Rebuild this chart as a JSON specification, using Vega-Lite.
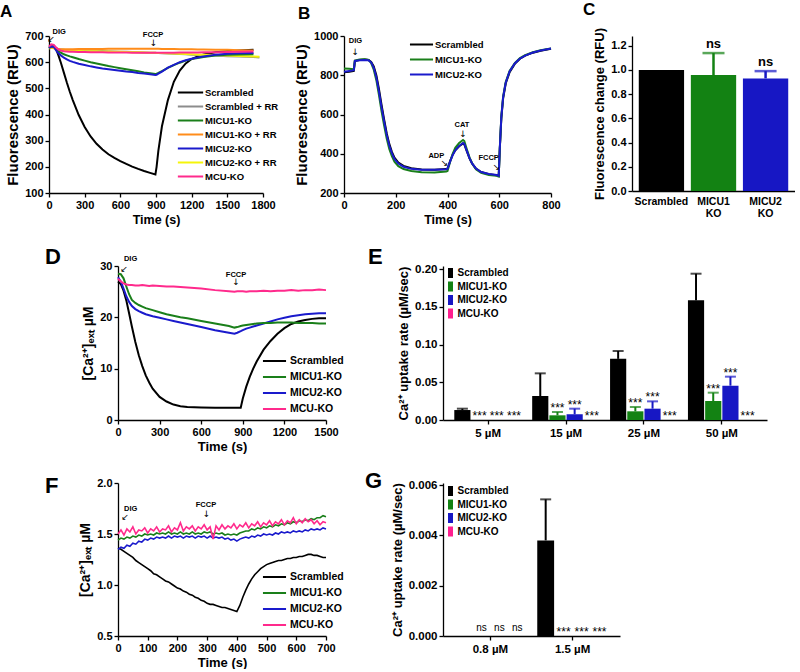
{
"$schema": "https://vega.github.io/schema/vega-lite/v6.json",
"background": "#ffffff",
"padding": {"left": 0, "top": 0, "right": 0, "bottom": 0},
"config": {
  "view": {"stroke": null},
  "font": "Liberation Sans",
  "axis": {"domainColor": "#000000", "domainWidth": 1.3, "tickColor": "#000000", "tickWidth": 1.3, "tickSize": 4, "labelColor": "#000000", "labelFont": "Liberation Sans", "labelFontWeight": "bold", "labelFontSize": 11, "labelPadding": 2, "labelFlush": false, "labelOverlap": false, "titleColor": "#000000", "titleFont": "Liberation Sans", "titleFontWeight": "bold", "titleFontSize": 13, "titlePadding": 4, "grid": false},
  "legend": {"labelFont": "Liberation Sans", "labelFontWeight": "bold", "labelFontSize": 10, "labelColor": "#000000", "padding": 0, "title": null},
  "title": {"font": "Liberation Sans", "fontWeight": "bold", "color": "#000000", "anchor": "start", "frame": "group", "offset": 2}
},
"datasets": {
  "A": [
    {"t":0,"Scrambled":655,"Scrambled + RR":655,"MICU1-KO":655,"MICU1-KO + RR":655,"MICU2-KO":655,"MICU2-KO + RR":652,"MCU-KO":660},
    {"t":20,"Scrambled":660,"Scrambled + RR":659,"MICU1-KO":660,"MICU1-KO + RR":657,"MICU2-KO":660,"MICU2-KO + RR":655,"MCU-KO":668},
    {"t":40,"Scrambled":662,"Scrambled + RR":658,"MICU1-KO":661,"MICU1-KO + RR":656,"MICU2-KO":659,"MICU2-KO + RR":653,"MCU-KO":666},
    {"t":60,"Scrambled":650,"Scrambled + RR":652,"MICU1-KO":650,"MICU1-KO + RR":651,"MICU2-KO":645,"MICU2-KO + RR":648,"MCU-KO":656},
    {"t":80,"Scrambled":625,"Scrambled + RR":650,"MICU1-KO":642,"MICU1-KO + RR":650,"MICU2-KO":634,"MICU2-KO + RR":646,"MCU-KO":648},
    {"t":100,"Scrambled":598,"Scrambled + RR":648,"MICU1-KO":636,"MICU1-KO + RR":649,"MICU2-KO":626,"MICU2-KO + RR":645,"MCU-KO":644},
    {"t":125,"Scrambled":560,"Scrambled + RR":647,"MICU1-KO":630,"MICU1-KO + RR":649,"MICU2-KO":617,"MICU2-KO + RR":644,"MCU-KO":642},
    {"t":150,"Scrambled":522,"Scrambled + RR":646,"MICU1-KO":626,"MICU1-KO + RR":649,"MICU2-KO":611,"MICU2-KO + RR":644,"MCU-KO":641},
    {"t":175,"Scrambled":487,"Scrambled + RR":646,"MICU1-KO":622,"MICU1-KO + RR":649,"MICU2-KO":605,"MICU2-KO + RR":643,"MCU-KO":640},
    {"t":200,"Scrambled":455,"Scrambled + RR":645,"MICU1-KO":619,"MICU1-KO + RR":649,"MICU2-KO":601,"MICU2-KO + RR":643,"MCU-KO":640},
    {"t":250,"Scrambled":398,"Scrambled + RR":645,"MICU1-KO":612,"MICU1-KO + RR":650,"MICU2-KO":594,"MICU2-KO + RR":643,"MCU-KO":639},
    {"t":300,"Scrambled":352,"Scrambled + RR":644,"MICU1-KO":606,"MICU1-KO + RR":650,"MICU2-KO":589,"MICU2-KO + RR":642,"MCU-KO":639},
    {"t":350,"Scrambled":316,"Scrambled + RR":644,"MICU1-KO":600,"MICU1-KO + RR":650,"MICU2-KO":584,"MICU2-KO + RR":642,"MCU-KO":638},
    {"t":400,"Scrambled":288,"Scrambled + RR":643,"MICU1-KO":595,"MICU1-KO + RR":650,"MICU2-KO":580,"MICU2-KO + RR":642,"MCU-KO":638},
    {"t":450,"Scrambled":266,"Scrambled + RR":643,"MICU1-KO":590,"MICU1-KO + RR":650,"MICU2-KO":576,"MICU2-KO + RR":641,"MCU-KO":638},
    {"t":500,"Scrambled":248,"Scrambled + RR":642,"MICU1-KO":585,"MICU1-KO + RR":651,"MICU2-KO":573,"MICU2-KO + RR":641,"MCU-KO":637},
    {"t":550,"Scrambled":234,"Scrambled + RR":641,"MICU1-KO":581,"MICU1-KO + RR":651,"MICU2-KO":570,"MICU2-KO + RR":640,"MCU-KO":637},
    {"t":600,"Scrambled":222,"Scrambled + RR":640,"MICU1-KO":577,"MICU1-KO + RR":651,"MICU2-KO":567,"MICU2-KO + RR":640,"MCU-KO":637},
    {"t":650,"Scrambled":211,"Scrambled + RR":640,"MICU1-KO":573,"MICU1-KO + RR":651,"MICU2-KO":564,"MICU2-KO + RR":639,"MCU-KO":637},
    {"t":700,"Scrambled":201,"Scrambled + RR":639,"MICU1-KO":569,"MICU1-KO + RR":651,"MICU2-KO":562,"MICU2-KO + RR":638,"MCU-KO":636},
    {"t":750,"Scrambled":192,"Scrambled + RR":638,"MICU1-KO":565,"MICU1-KO + RR":651,"MICU2-KO":559,"MICU2-KO + RR":638,"MCU-KO":636},
    {"t":800,"Scrambled":184,"Scrambled + RR":637,"MICU1-KO":561,"MICU1-KO + RR":651,"MICU2-KO":557,"MICU2-KO + RR":637,"MCU-KO":636},
    {"t":850,"Scrambled":177,"Scrambled + RR":636,"MICU1-KO":558,"MICU1-KO + RR":651,"MICU2-KO":554,"MICU2-KO + RR":636,"MCU-KO":636},
    {"t":895,"Scrambled":171,"Scrambled + RR":636,"MICU1-KO":555,"MICU1-KO + RR":651,"MICU2-KO":551,"MICU2-KO + RR":636,"MCU-KO":636},
    {"t":905,"Scrambled":200,"Scrambled + RR":635,"MICU1-KO":556,"MICU1-KO + RR":651,"MICU2-KO":552,"MICU2-KO + RR":635,"MCU-KO":636},
    {"t":920,"Scrambled":262,"Scrambled + RR":635,"MICU1-KO":559,"MICU1-KO + RR":651,"MICU2-KO":556,"MICU2-KO + RR":635,"MCU-KO":636},
    {"t":950,"Scrambled":355,"Scrambled + RR":634,"MICU1-KO":566,"MICU1-KO + RR":650,"MICU2-KO":564,"MICU2-KO + RR":635,"MCU-KO":636},
    {"t":1000,"Scrambled":455,"Scrambled + RR":633,"MICU1-KO":578,"MICU1-KO + RR":650,"MICU2-KO":579,"MICU2-KO + RR":634,"MCU-KO":636},
    {"t":1050,"Scrambled":525,"Scrambled + RR":632,"MICU1-KO":589,"MICU1-KO + RR":650,"MICU2-KO":590,"MICU2-KO + RR":633,"MCU-KO":636},
    {"t":1100,"Scrambled":568,"Scrambled + RR":631,"MICU1-KO":598,"MICU1-KO + RR":649,"MICU2-KO":600,"MICU2-KO + RR":632,"MCU-KO":637},
    {"t":1150,"Scrambled":595,"Scrambled + RR":630,"MICU1-KO":606,"MICU1-KO + RR":649,"MICU2-KO":607,"MICU2-KO + RR":631,"MCU-KO":637},
    {"t":1200,"Scrambled":612,"Scrambled + RR":628,"MICU1-KO":612,"MICU1-KO + RR":649,"MICU2-KO":613,"MICU2-KO + RR":630,"MCU-KO":637},
    {"t":1250,"Scrambled":622,"Scrambled + RR":627,"MICU1-KO":616,"MICU1-KO + RR":648,"MICU2-KO":618,"MICU2-KO + RR":629,"MCU-KO":637},
    {"t":1300,"Scrambled":629,"Scrambled + RR":626,"MICU1-KO":620,"MICU1-KO + RR":648,"MICU2-KO":622,"MICU2-KO + RR":628,"MCU-KO":638},
    {"t":1400,"Scrambled":638,"Scrambled + RR":625,"MICU1-KO":625,"MICU1-KO + RR":647,"MICU2-KO":628,"MICU2-KO + RR":627,"MCU-KO":638},
    {"t":1500,"Scrambled":642,"Scrambled + RR":623,"MICU1-KO":628,"MICU1-KO + RR":647,"MICU2-KO":632,"MICU2-KO + RR":625,"MCU-KO":639},
    {"t":1600,"Scrambled":645,"Scrambled + RR":622,"MICU1-KO":629,"MICU1-KO + RR":646,"MICU2-KO":634,"MICU2-KO + RR":624,"MCU-KO":640},
    {"t":1720,"Scrambled":647,"Scrambled + RR":620,"MICU1-KO":630,"MICU1-KO + RR":645,"MICU2-KO":635,"MICU2-KO + RR":622,"MCU-KO":641},
    {"t":1770,"Scrambled":null,"Scrambled + RR":618,"MICU1-KO":null,"MICU1-KO + RR":null,"MICU2-KO":null,"MICU2-KO + RR":621,"MCU-KO":null}
  ],
  "Aann": [
    {"t":86,"v":717,"label":"DIG","kind":"t"},
    {"t":17,"v":689,"label":"↙","kind":"a"},
    {"t":875,"v":705,"label":"FCCP","kind":"t"},
    {"t":880,"v":673,"label":"↓","kind":"a"}
  ],
  "B": [
    {"t":0,"Scrambled":815,"MICU1-KO":835,"MICU2-KO":818},
    {"t":20,"Scrambled":818,"MICU1-KO":833,"MICU2-KO":822},
    {"t":38,"Scrambled":822,"MICU1-KO":830,"MICU2-KO":826},
    {"t":42,"Scrambled":872,"MICU1-KO":875,"MICU2-KO":873},
    {"t":60,"Scrambled":878,"MICU1-KO":880,"MICU2-KO":877},
    {"t":80,"Scrambled":880,"MICU1-KO":882,"MICU2-KO":878},
    {"t":95,"Scrambled":878,"MICU1-KO":878,"MICU2-KO":876},
    {"t":105,"Scrambled":868,"MICU1-KO":862,"MICU2-KO":866},
    {"t":115,"Scrambled":845,"MICU1-KO":828,"MICU2-KO":838},
    {"t":125,"Scrambled":800,"MICU1-KO":775,"MICU2-KO":790},
    {"t":135,"Scrambled":730,"MICU1-KO":700,"MICU2-KO":718},
    {"t":145,"Scrambled":650,"MICU1-KO":618,"MICU2-KO":638},
    {"t":155,"Scrambled":575,"MICU1-KO":545,"MICU2-KO":565},
    {"t":165,"Scrambled":505,"MICU1-KO":478,"MICU2-KO":496},
    {"t":175,"Scrambled":450,"MICU1-KO":425,"MICU2-KO":442},
    {"t":185,"Scrambled":410,"MICU1-KO":388,"MICU2-KO":403},
    {"t":195,"Scrambled":380,"MICU1-KO":360,"MICU2-KO":374},
    {"t":210,"Scrambled":355,"MICU1-KO":337,"MICU2-KO":350},
    {"t":230,"Scrambled":338,"MICU1-KO":322,"MICU2-KO":334},
    {"t":260,"Scrambled":326,"MICU1-KO":312,"MICU2-KO":323},
    {"t":300,"Scrambled":320,"MICU1-KO":306,"MICU2-KO":318},
    {"t":350,"Scrambled":319,"MICU1-KO":305,"MICU2-KO":318},
    {"t":395,"Scrambled":322,"MICU1-KO":309,"MICU2-KO":321},
    {"t":400,"Scrambled":325,"MICU1-KO":312,"MICU2-KO":324},
    {"t":410,"Scrambled":362,"MICU1-KO":358,"MICU2-KO":360},
    {"t":420,"Scrambled":395,"MICU1-KO":400,"MICU2-KO":393},
    {"t":430,"Scrambled":418,"MICU1-KO":430,"MICU2-KO":418},
    {"t":445,"Scrambled":438,"MICU1-KO":455,"MICU2-KO":440},
    {"t":460,"Scrambled":452,"MICU1-KO":470,"MICU2-KO":455},
    {"t":465,"Scrambled":448,"MICU1-KO":465,"MICU2-KO":450},
    {"t":475,"Scrambled":412,"MICU1-KO":422,"MICU2-KO":413},
    {"t":485,"Scrambled":376,"MICU1-KO":382,"MICU2-KO":378},
    {"t":495,"Scrambled":350,"MICU1-KO":352,"MICU2-KO":351},
    {"t":510,"Scrambled":324,"MICU1-KO":321,"MICU2-KO":325},
    {"t":530,"Scrambled":307,"MICU1-KO":303,"MICU2-KO":307},
    {"t":560,"Scrambled":296,"MICU1-KO":292,"MICU2-KO":297},
    {"t":590,"Scrambled":291,"MICU1-KO":288,"MICU2-KO":292},
    {"t":598,"Scrambled":287,"MICU1-KO":284,"MICU2-KO":288},
    {"t":602,"Scrambled":420,"MICU1-KO":425,"MICU2-KO":425},
    {"t":608,"Scrambled":580,"MICU1-KO":590,"MICU2-KO":585},
    {"t":615,"Scrambled":682,"MICU1-KO":692,"MICU2-KO":688},
    {"t":625,"Scrambled":758,"MICU1-KO":766,"MICU2-KO":762},
    {"t":640,"Scrambled":816,"MICU1-KO":822,"MICU2-KO":820},
    {"t":660,"Scrambled":858,"MICU1-KO":862,"MICU2-KO":860},
    {"t":680,"Scrambled":884,"MICU1-KO":887,"MICU2-KO":885},
    {"t":700,"Scrambled":900,"MICU1-KO":902,"MICU2-KO":900},
    {"t":730,"Scrambled":915,"MICU1-KO":918,"MICU2-KO":916},
    {"t":760,"Scrambled":925,"MICU1-KO":928,"MICU2-KO":926},
    {"t":800,"Scrambled":935,"MICU1-KO":937,"MICU2-KO":936}
  ],
  "Bann": [
    {"t":44,"v":976,"label":"DIG","kind":"t"},
    {"t":44,"v":916,"label":"↓","kind":"a"},
    {"t":357,"v":391,"label":"ADP","kind":"t"},
    {"t":388,"v":352,"label":"↘","kind":"a"},
    {"t":456,"v":545,"label":"CAT","kind":"t"},
    {"t":460,"v":502,"label":"↓","kind":"a"},
    {"t":559,"v":378,"label":"FCCP","kind":"t"},
    {"t":589,"v":335,"label":"↘","kind":"a"}
  ],
  "C": [
    {"cond":"Scrambled","value":1.0,"upper":1.0,"star":""},
    {"cond":"MICU1 KO","value":0.957,"upper":1.139,"star":"ns"},
    {"cond":"MICU2 KO","value":0.93,"upper":0.99,"star":"ns"}
  ],
  "D": [
    {"t":0,"Scrambled":27.0,"MICU1-KO":28.5,"MICU2-KO":27.8,"MCU-KO":27.5},
    {"t":20,"Scrambled":26.5,"MICU1-KO":28.4,"MICU2-KO":27.0,"MCU-KO":27.0},
    {"t":40,"Scrambled":25.2,"MICU1-KO":27.6,"MICU2-KO":25.6,"MCU-KO":26.6},
    {"t":60,"Scrambled":23.3,"MICU1-KO":26.0,"MICU2-KO":24.1,"MCU-KO":26.4},
    {"t":80,"Scrambled":20.8,"MICU1-KO":24.5,"MICU2-KO":23.0,"MCU-KO":26.3},
    {"t":100,"Scrambled":18.2,"MICU1-KO":23.4,"MICU2-KO":22.2,"MCU-KO":26.3},
    {"t":125,"Scrambled":15.2,"MICU1-KO":22.8,"MICU2-KO":21.6,"MCU-KO":26.2},
    {"t":150,"Scrambled":12.6,"MICU1-KO":22.4,"MICU2-KO":21.2,"MCU-KO":26.2},
    {"t":175,"Scrambled":10.5,"MICU1-KO":22.1,"MICU2-KO":20.9,"MCU-KO":26.3},
    {"t":200,"Scrambled":8.7,"MICU1-KO":21.8,"MICU2-KO":20.6,"MCU-KO":26.2},
    {"t":225,"Scrambled":7.3,"MICU1-KO":21.6,"MICU2-KO":20.4,"MCU-KO":26.1},
    {"t":250,"Scrambled":6.1,"MICU1-KO":21.4,"MICU2-KO":20.2,"MCU-KO":26.2},
    {"t":300,"Scrambled":4.5,"MICU1-KO":21.0,"MICU2-KO":19.9,"MCU-KO":26.1},
    {"t":350,"Scrambled":3.6,"MICU1-KO":20.6,"MICU2-KO":19.6,"MCU-KO":26.0},
    {"t":400,"Scrambled":3.0,"MICU1-KO":20.3,"MICU2-KO":19.3,"MCU-KO":26.0},
    {"t":450,"Scrambled":2.7,"MICU1-KO":20.0,"MICU2-KO":19.0,"MCU-KO":25.9},
    {"t":500,"Scrambled":2.55,"MICU1-KO":19.8,"MICU2-KO":18.7,"MCU-KO":25.8},
    {"t":600,"Scrambled":2.45,"MICU1-KO":19.3,"MICU2-KO":18.1,"MCU-KO":25.6},
    {"t":700,"Scrambled":2.4,"MICU1-KO":18.8,"MICU2-KO":17.5,"MCU-KO":25.3},
    {"t":800,"Scrambled":2.4,"MICU1-KO":18.3,"MICU2-KO":17.0,"MCU-KO":25.1},
    {"t":840,"Scrambled":2.4,"MICU1-KO":18.0,"MICU2-KO":16.8,"MCU-KO":25.0},
    {"t":860,"Scrambled":2.4,"MICU1-KO":18.1,"MICU2-KO":17.0,"MCU-KO":25.1},
    {"t":885,"Scrambled":2.4,"MICU1-KO":18.3,"MICU2-KO":17.3,"MCU-KO":25.1},
    {"t":900,"Scrambled":4.2,"MICU1-KO":18.4,"MICU2-KO":17.5,"MCU-KO":25.1},
    {"t":925,"Scrambled":6.5,"MICU1-KO":18.5,"MICU2-KO":17.8,"MCU-KO":25.0},
    {"t":950,"Scrambled":8.4,"MICU1-KO":18.6,"MICU2-KO":18.0,"MCU-KO":25.1},
    {"t":975,"Scrambled":10.0,"MICU1-KO":18.7,"MICU2-KO":18.2,"MCU-KO":25.1},
    {"t":1000,"Scrambled":11.4,"MICU1-KO":18.8,"MICU2-KO":18.4,"MCU-KO":25.1},
    {"t":1050,"Scrambled":13.7,"MICU1-KO":18.9,"MICU2-KO":18.8,"MCU-KO":25.2},
    {"t":1100,"Scrambled":15.4,"MICU1-KO":18.9,"MICU2-KO":19.2,"MCU-KO":25.1},
    {"t":1150,"Scrambled":16.8,"MICU1-KO":19.0,"MICU2-KO":19.6,"MCU-KO":25.2},
    {"t":1200,"Scrambled":17.9,"MICU1-KO":19.0,"MICU2-KO":19.9,"MCU-KO":25.2},
    {"t":1250,"Scrambled":18.7,"MICU1-KO":19.0,"MICU2-KO":20.2,"MCU-KO":25.3},
    {"t":1300,"Scrambled":19.2,"MICU1-KO":18.9,"MICU2-KO":20.4,"MCU-KO":25.2},
    {"t":1350,"Scrambled":19.5,"MICU1-KO":18.9,"MICU2-KO":20.6,"MCU-KO":25.3},
    {"t":1400,"Scrambled":19.7,"MICU1-KO":18.9,"MICU2-KO":20.7,"MCU-KO":25.3},
    {"t":1450,"Scrambled":19.8,"MICU1-KO":18.8,"MICU2-KO":20.8,"MCU-KO":25.4},
    {"t":1500,"Scrambled":19.8,"MICU1-KO":18.8,"MICU2-KO":20.8,"MCU-KO":25.3}
  ],
  "Dann": [
    {"t":91,"v":31.3,"label":"DIG","kind":"t"},
    {"t":43,"v":29.5,"label":"↙","kind":"a"},
    {"t":851,"v":28.2,"label":"FCCP","kind":"t"},
    {"t":851,"v":26.9,"label":"↓","kind":"a"}
  ],
  "E": [
    {"conc":"5 µM","cond":"Scrambled","value":0.0132,"upper":0.015,"star":""},
    {"conc":"5 µM","cond":"MICU1-KO","value":0,"upper":0,"star":"***"},
    {"conc":"5 µM","cond":"MICU2-KO","value":0,"upper":0,"star":"***"},
    {"conc":"5 µM","cond":"MCU-KO","value":0,"upper":0,"star":"***"},
    {"conc":"15 µM","cond":"Scrambled","value":0.0318,"upper":0.0618,"star":""},
    {"conc":"15 µM","cond":"MICU1-KO","value":0.0062,"upper":0.0106,"star":"***"},
    {"conc":"15 µM","cond":"MICU2-KO","value":0.0075,"upper":0.015,"star":"***"},
    {"conc":"15 µM","cond":"MCU-KO","value":0,"upper":0,"star":"***"},
    {"conc":"25 µM","cond":"Scrambled","value":0.081,"upper":0.0914,"star":""},
    {"conc":"25 µM","cond":"MICU1-KO","value":0.0115,"upper":0.0172,"star":"***"},
    {"conc":"25 µM","cond":"MICU2-KO","value":0.015,"upper":0.0247,"star":"***"},
    {"conc":"25 µM","cond":"MCU-KO","value":0,"upper":0,"star":"***"},
    {"conc":"50 µM","cond":"Scrambled","value":0.1585,"upper":0.1938,"star":""},
    {"conc":"50 µM","cond":"MICU1-KO","value":0.0252,"upper":0.0362,"star":"***"},
    {"conc":"50 µM","cond":"MICU2-KO","value":0.0455,"upper":0.0574,"star":"***"},
    {"conc":"50 µM","cond":"MCU-KO","value":0,"upper":0,"star":"***"}
  ],
  "F": [
    {"t":0,"Scrambled":1.36,"MICU1-KO":1.44,"MICU2-KO":1.35,"MCU-KO":1.50},
    {"t":10,"Scrambled":1.35,"MICU1-KO":1.46,"MICU2-KO":1.37,"MCU-KO":1.54},
    {"t":20,"Scrambled":1.33,"MICU1-KO":1.45,"MICU2-KO":1.36,"MCU-KO":1.49},
    {"t":30,"Scrambled":1.31,"MICU1-KO":1.47,"MICU2-KO":1.39,"MCU-KO":1.55},
    {"t":40,"Scrambled":1.29,"MICU1-KO":1.46,"MICU2-KO":1.38,"MCU-KO":1.52},
    {"t":50,"Scrambled":1.27,"MICU1-KO":1.48,"MICU2-KO":1.41,"MCU-KO":1.57},
    {"t":60,"Scrambled":1.24,"MICU1-KO":1.47,"MICU2-KO":1.40,"MCU-KO":1.50},
    {"t":70,"Scrambled":1.22,"MICU1-KO":1.49,"MICU2-KO":1.43,"MCU-KO":1.54},
    {"t":80,"Scrambled":1.20,"MICU1-KO":1.48,"MICU2-KO":1.42,"MCU-KO":1.53},
    {"t":90,"Scrambled":1.18,"MICU1-KO":1.50,"MICU2-KO":1.45,"MCU-KO":1.56},
    {"t":100,"Scrambled":1.16,"MICU1-KO":1.49,"MICU2-KO":1.44,"MCU-KO":1.51},
    {"t":110,"Scrambled":1.14,"MICU1-KO":1.50,"MICU2-KO":1.46,"MCU-KO":1.55},
    {"t":120,"Scrambled":1.11,"MICU1-KO":1.49,"MICU2-KO":1.45,"MCU-KO":1.53},
    {"t":130,"Scrambled":1.10,"MICU1-KO":1.51,"MICU2-KO":1.47,"MCU-KO":1.57},
    {"t":140,"Scrambled":1.08,"MICU1-KO":1.50,"MICU2-KO":1.46,"MCU-KO":1.52},
    {"t":150,"Scrambled":1.06,"MICU1-KO":1.51,"MICU2-KO":1.47,"MCU-KO":1.55},
    {"t":160,"Scrambled":1.04,"MICU1-KO":1.50,"MICU2-KO":1.46,"MCU-KO":1.54},
    {"t":170,"Scrambled":1.03,"MICU1-KO":1.52,"MICU2-KO":1.48,"MCU-KO":1.58},
    {"t":180,"Scrambled":1.01,"MICU1-KO":1.50,"MICU2-KO":1.46,"MCU-KO":1.52},
    {"t":190,"Scrambled":0.99,"MICU1-KO":1.51,"MICU2-KO":1.48,"MCU-KO":1.56},
    {"t":200,"Scrambled":0.97,"MICU1-KO":1.50,"MICU2-KO":1.47,"MCU-KO":1.54},
    {"t":210,"Scrambled":0.96,"MICU1-KO":1.52,"MICU2-KO":1.48,"MCU-KO":1.61},
    {"t":220,"Scrambled":0.94,"MICU1-KO":1.50,"MICU2-KO":1.46,"MCU-KO":1.53},
    {"t":230,"Scrambled":0.93,"MICU1-KO":1.51,"MICU2-KO":1.48,"MCU-KO":1.57},
    {"t":240,"Scrambled":0.91,"MICU1-KO":1.50,"MICU2-KO":1.47,"MCU-KO":1.55},
    {"t":250,"Scrambled":0.90,"MICU1-KO":1.52,"MICU2-KO":1.48,"MCU-KO":1.58},
    {"t":260,"Scrambled":0.88,"MICU1-KO":1.50,"MICU2-KO":1.46,"MCU-KO":1.53},
    {"t":270,"Scrambled":0.87,"MICU1-KO":1.51,"MICU2-KO":1.48,"MCU-KO":1.57},
    {"t":280,"Scrambled":0.85,"MICU1-KO":1.50,"MICU2-KO":1.47,"MCU-KO":1.55},
    {"t":290,"Scrambled":0.84,"MICU1-KO":1.52,"MICU2-KO":1.48,"MCU-KO":1.59},
    {"t":300,"Scrambled":0.82,"MICU1-KO":1.51,"MICU2-KO":1.46,"MCU-KO":1.54},
    {"t":310,"Scrambled":0.81,"MICU1-KO":1.52,"MICU2-KO":1.48,"MCU-KO":1.57},
    {"t":320,"Scrambled":0.81,"MICU1-KO":1.50,"MICU2-KO":1.46,"MCU-KO":1.45},
    {"t":330,"Scrambled":0.80,"MICU1-KO":1.51,"MICU2-KO":1.47,"MCU-KO":1.58},
    {"t":340,"Scrambled":0.79,"MICU1-KO":1.50,"MICU2-KO":1.46,"MCU-KO":1.54},
    {"t":350,"Scrambled":0.78,"MICU1-KO":1.51,"MICU2-KO":1.47,"MCU-KO":1.59},
    {"t":360,"Scrambled":0.78,"MICU1-KO":1.49,"MICU2-KO":1.45,"MCU-KO":1.55},
    {"t":370,"Scrambled":0.77,"MICU1-KO":1.50,"MICU2-KO":1.46,"MCU-KO":1.58},
    {"t":380,"Scrambled":0.76,"MICU1-KO":1.49,"MICU2-KO":1.44,"MCU-KO":1.56},
    {"t":390,"Scrambled":0.75,"MICU1-KO":1.50,"MICU2-KO":1.45,"MCU-KO":1.60},
    {"t":400,"Scrambled":0.74,"MICU1-KO":1.49,"MICU2-KO":1.43,"MCU-KO":1.55},
    {"t":410,"Scrambled":0.80,"MICU1-KO":1.51,"MICU2-KO":1.45,"MCU-KO":1.59},
    {"t":420,"Scrambled":0.88,"MICU1-KO":1.52,"MICU2-KO":1.46,"MCU-KO":1.57},
    {"t":430,"Scrambled":0.95,"MICU1-KO":1.53,"MICU2-KO":1.47,"MCU-KO":1.61},
    {"t":440,"Scrambled":1.01,"MICU1-KO":1.53,"MICU2-KO":1.46,"MCU-KO":1.56},
    {"t":450,"Scrambled":1.06,"MICU1-KO":1.55,"MICU2-KO":1.48,"MCU-KO":1.60},
    {"t":460,"Scrambled":1.10,"MICU1-KO":1.54,"MICU2-KO":1.47,"MCU-KO":1.58},
    {"t":470,"Scrambled":1.13,"MICU1-KO":1.56,"MICU2-KO":1.49,"MCU-KO":1.62},
    {"t":480,"Scrambled":1.16,"MICU1-KO":1.55,"MICU2-KO":1.48,"MCU-KO":1.57},
    {"t":490,"Scrambled":1.18,"MICU1-KO":1.57,"MICU2-KO":1.50,"MCU-KO":1.61},
    {"t":500,"Scrambled":1.20,"MICU1-KO":1.56,"MICU2-KO":1.49,"MCU-KO":1.59},
    {"t":510,"Scrambled":1.21,"MICU1-KO":1.58,"MICU2-KO":1.50,"MCU-KO":1.63},
    {"t":520,"Scrambled":1.22,"MICU1-KO":1.57,"MICU2-KO":1.49,"MCU-KO":1.58},
    {"t":530,"Scrambled":1.23,"MICU1-KO":1.59,"MICU2-KO":1.51,"MCU-KO":1.62},
    {"t":540,"Scrambled":1.24,"MICU1-KO":1.58,"MICU2-KO":1.50,"MCU-KO":1.60},
    {"t":550,"Scrambled":1.24,"MICU1-KO":1.60,"MICU2-KO":1.52,"MCU-KO":1.64},
    {"t":560,"Scrambled":1.25,"MICU1-KO":1.59,"MICU2-KO":1.51,"MCU-KO":1.59},
    {"t":570,"Scrambled":1.26,"MICU1-KO":1.61,"MICU2-KO":1.52,"MCU-KO":1.63},
    {"t":580,"Scrambled":1.26,"MICU1-KO":1.60,"MICU2-KO":1.51,"MCU-KO":1.61},
    {"t":590,"Scrambled":1.27,"MICU1-KO":1.62,"MICU2-KO":1.53,"MCU-KO":1.66},
    {"t":600,"Scrambled":1.27,"MICU1-KO":1.61,"MICU2-KO":1.52,"MCU-KO":1.60},
    {"t":610,"Scrambled":1.28,"MICU1-KO":1.63,"MICU2-KO":1.53,"MCU-KO":1.64},
    {"t":620,"Scrambled":1.28,"MICU1-KO":1.62,"MICU2-KO":1.52,"MCU-KO":1.61},
    {"t":630,"Scrambled":1.29,"MICU1-KO":1.64,"MICU2-KO":1.54,"MCU-KO":1.65},
    {"t":640,"Scrambled":1.30,"MICU1-KO":1.63,"MICU2-KO":1.53,"MCU-KO":1.62},
    {"t":650,"Scrambled":1.30,"MICU1-KO":1.65,"MICU2-KO":1.55,"MCU-KO":1.64},
    {"t":660,"Scrambled":1.29,"MICU1-KO":1.64,"MICU2-KO":1.54,"MCU-KO":1.60},
    {"t":670,"Scrambled":1.29,"MICU1-KO":1.66,"MICU2-KO":1.55,"MCU-KO":1.63},
    {"t":680,"Scrambled":1.28,"MICU1-KO":1.66,"MICU2-KO":1.54,"MCU-KO":1.59},
    {"t":690,"Scrambled":1.27,"MICU1-KO":1.68,"MICU2-KO":1.56,"MCU-KO":1.62},
    {"t":700,"Scrambled":1.27,"MICU1-KO":1.67,"MICU2-KO":1.55,"MCU-KO":1.61}
  ],
  "Fann": [
    {"t":43,"v":1.75,"label":"DIG","kind":"t"},
    {"t":24,"v":1.67,"label":"↙","kind":"a"},
    {"t":296,"v":1.78,"label":"FCCP","kind":"t"},
    {"t":298,"v":1.70,"label":"↓","kind":"a"}
  ],
  "G": [
    {"conc":"0.8 µM","cond":"Scrambled","value":0,"upper":0,"star":""},
    {"conc":"0.8 µM","cond":"MICU1-KO","value":0,"upper":0,"star":"ns"},
    {"conc":"0.8 µM","cond":"MICU2-KO","value":0,"upper":0,"star":"ns"},
    {"conc":"0.8 µM","cond":"MCU-KO","value":0,"upper":0,"star":"ns"},
    {"conc":"1.5 µM","cond":"Scrambled","value":0.0038,"upper":0.00543,"star":""},
    {"conc":"1.5 µM","cond":"MICU1-KO","value":0,"upper":0,"star":"***"},
    {"conc":"1.5 µM","cond":"MICU2-KO","value":0,"upper":0,"star":"***"},
    {"conc":"1.5 µM","cond":"MCU-KO","value":0,"upper":0,"star":"***"}
  ]
},
"spacing": 20,
"resolve": {"scale": {"color": "independent", "xOffset": "independent"}, "legend": {"color": "independent"}},
"vconcat": [
  {
    "bounds": "flush",
    "spacing": 81,
    "resolve": {"scale": {"color": "independent", "xOffset": "independent"}, "legend": {"color": "independent"}},
    "hconcat": [
      {
        "width": 214, "height": 157,
        "title": {"text": "A", "fontSize": 17, "dx": -49, "dy": -5},
        "encoding": {
          "x": {"field": "t", "type": "quantitative", "scale": {"domain": [0, 1800], "nice": false}, "axis": {"values": [0, 300, 600, 900, 1200, 1500, 1800], "format": "d", "title": "Time (s)", "titleFontSize": 12.5, "titlePadding": 3}},
          "y": {"field": "v", "type": "quantitative", "scale": {"domain": [100, 700], "nice": false, "zero": false}, "axis": {"values": [100, 200, 300, 400, 500, 600, 700], "format": "d", "title": "Fluorescence (RFU)", "titleFontSize": 15}}
        },
        "layer": [
          {
            "data": {"name": "A"},
            "transform": [{"fold": ["Scrambled", "Scrambled + RR", "MICU2-KO + RR", "MICU1-KO + RR", "MICU1-KO", "MICU2-KO", "MCU-KO"], "as": ["s", "v"]}],
            "mark": {"type": "line", "strokeWidth": 2},
            "encoding": {
              "color": {"field": "s", "type": "nominal",
                "scale": {"domain": ["Scrambled", "Scrambled + RR", "MICU1-KO", "MICU1-KO + RR", "MICU2-KO", "MICU2-KO + RR", "MCU-KO"], "range": ["#000000", "#8c8c8c", "#1a7f1a", "#ff8c1a", "#1a1acc", "#f5f50a", "#ff2a8c"]},
                "legend": {"orient": "none", "legendX": 135, "legendY": 50, "symbolType": "M-2.3,0L2.3,0", "symbolSize": 121, "symbolStrokeWidth": 2, "labelOffset": 8, "rowPadding": 3, "labelFontSize": 9.5}}
            }
          },
          {
            "data": {"name": "Aann"},
            "transform": [{"filter": "datum.kind == 't'"}],
            "mark": {"type": "text", "font": "Liberation Sans", "fontSize": 7.5, "fontWeight": "bold"},
            "encoding": {"text": {"field": "label"}}
          },
          {
            "data": {"name": "Aann"},
            "transform": [{"filter": "datum.kind == 'a'"}],
            "mark": {"type": "text", "font": "DejaVu Sans", "fontSize": 9},
            "encoding": {"text": {"field": "label"}}
          }
        ]
      },
      {
        "width": 207, "height": 157,
        "title": {"text": "B", "fontSize": 17, "dx": -46, "dy": -5},
        "encoding": {
          "x": {"field": "t", "type": "quantitative", "scale": {"domain": [0, 800], "nice": false}, "axis": {"values": [0, 200, 400, 600, 800], "format": "d", "title": "Time (s)", "titleFontSize": 12.5, "titlePadding": 3}},
          "y": {"field": "v", "type": "quantitative", "scale": {"domain": [200, 1000], "nice": false, "zero": false}, "axis": {"values": [200, 400, 600, 800, 1000], "format": "d", "title": "Fluorescence (RFU)", "titleFontSize": 15}}
        },
        "layer": [
          {
            "data": {"name": "B"},
            "transform": [{"fold": ["Scrambled", "MICU1-KO", "MICU2-KO"], "as": ["s", "v"]}],
            "mark": {"type": "line", "strokeWidth": 2},
            "encoding": {
              "color": {"field": "s", "type": "nominal",
                "scale": {"domain": ["Scrambled", "MICU1-KO", "MICU2-KO"], "range": ["#000000", "#1a7f1a", "#1a1acc"]},
                "legend": {"orient": "none", "legendX": 71, "legendY": 2, "symbolType": "M-2.1,0L2.1,0", "symbolSize": 121, "symbolStrokeWidth": 2, "labelOffset": 7, "rowPadding": 4, "labelFontSize": 9.5}}
            }
          },
          {
            "data": {"name": "Bann"},
            "transform": [{"filter": "datum.kind == 't'"}],
            "mark": {"type": "text", "font": "Liberation Sans", "fontSize": 7.5, "fontWeight": "bold"},
            "encoding": {"text": {"field": "label"}}
          },
          {
            "data": {"name": "Bann"},
            "transform": [{"filter": "datum.kind == 'a'"}],
            "mark": {"type": "text", "font": "DejaVu Sans", "fontSize": 9},
            "encoding": {"text": {"field": "label"}}
          }
        ]
      },
      {
        "width": 163, "height": 155,
        "title": {"text": "C", "fontSize": 17, "dx": -49, "dy": -5},
        "data": {"name": "C"},
        "encoding": {
          "x": {"field": "cond", "type": "nominal", "sort": null, "scale": {"paddingInner": 0.13, "paddingOuter": 0.13}, "axis": {"title": null, "labelAngle": 0, "ticks": false, "labelFontSize": 10.5, "labelPadding": 5, "labelExpr": "split(datum.label, ' ')"}}
        },
        "layer": [
          {
            "mark": {"type": "bar"},
            "encoding": {
              "y": {"field": "value", "type": "quantitative", "scale": {"domain": [0, 1.28], "nice": false}, "axis": {"values": [0, 0.2, 0.4, 0.6, 0.8, 1.0, 1.2], "format": ".1f", "title": "Fluorescence change  (RFU)", "labelFontSize": 11}},
              "color": {"field": "cond", "type": "nominal", "scale": {"domain": ["Scrambled", "MICU1 KO", "MICU2 KO"], "range": ["#000000", "#138213", "#1717c4"]}, "legend": null}
            }
          },
          {
            "transform": [{"filter": "datum.upper > datum.value"}],
            "mark": {"type": "rule", "strokeWidth": 2.5},
            "encoding": {
              "y": {"field": "value", "type": "quantitative", "scale": {"domain": [0, 1.28], "nice": false}, "axis": {"values": [0, 0.2, 0.4, 0.6, 0.8, 1.0, 1.2], "format": ".1f", "title": "Fluorescence change  (RFU)", "labelFontSize": 11}},
              "y2": {"field": "upper"},
              "color": {"field": "cond", "type": "nominal", "scale": {"domain": ["Scrambled", "MICU1 KO", "MICU2 KO"], "range": ["#000000", "#138213", "#1717c4"]}, "legend": null}
            }
          },
          {
            "transform": [{"filter": "datum.upper > datum.value"}],
            "mark": {"type": "tick", "thickness": 2.5, "size": 22},
            "encoding": {
              "y": {"field": "upper", "type": "quantitative", "scale": {"domain": [0, 1.28], "nice": false}, "axis": {"values": [0, 0.2, 0.4, 0.6, 0.8, 1.0, 1.2], "format": ".1f", "title": "Fluorescence change  (RFU)", "labelFontSize": 11}},
              "color": {"field": "cond", "type": "nominal", "scale": {"domain": ["Scrambled", "MICU1 KO", "MICU2 KO"], "range": ["#000000", "#138213", "#1717c4"]}, "legend": null}
            }
          },
          {
            "mark": {"type": "text", "font": "Liberation Sans", "fontWeight": "bold", "fontSize": 13, "baseline": "alphabetic", "dy": -5},
            "encoding": {
              "y": {"field": "upper", "type": "quantitative", "scale": {"domain": [0, 1.28], "nice": false}, "axis": {"values": [0, 0.2, 0.4, 0.6, 0.8, 1.0, 1.2], "format": ".1f", "title": "Fluorescence change  (RFU)", "labelFontSize": 11}},
              "text": {"field": "star"}
            }
          }
        ]
      }
    ]
  },
  {
    "spacing": -5,
    "resolve": {"scale": {"color": "independent", "xOffset": "independent"}, "legend": {"color": "independent"}},
    "hconcat": [
      {
        "width": 1, "height": 10,
        "data": {"values": [{"k": 1}]},
        "mark": {"type": "text"},
        "encoding": {"text": {"value": ""}}
      },
      {
        "spacing": 17,
        "resolve": {"scale": {"color": "independent", "xOffset": "independent"}, "legend": {"color": "independent"}},
        "vconcat": [
          {
            "bounds": "flush",
            "spacing": 117,
            "resolve": {"scale": {"color": "independent", "xOffset": "independent"}, "legend": {"color": "independent"}},
            "hconcat": [
              {
                "width": 208, "height": 154,
                "title": {"text": "D", "fontSize": 22, "dx": -73, "dy": 16},
                "encoding": {
                  "x": {"field": "t", "type": "quantitative", "scale": {"domain": [0, 1500], "nice": false}, "axis": {"values": [0, 300, 600, 900, 1200, 1500], "format": "d", "title": "Time (s)", "titlePadding": 3}},
                  "y": {"field": "v", "type": "quantitative", "scale": {"domain": [0, 30], "nice": false}, "axis": {"values": [0, 10, 20, 30], "format": "d", "title": "[Ca²⁺]ₑₓₜ µM", "titleFontSize": 14}}
                },
                "layer": [
                  {
                    "data": {"name": "D"},
                    "transform": [{"fold": ["Scrambled", "MICU2-KO", "MICU1-KO", "MCU-KO"], "as": ["s", "v"]}],
                    "mark": {"type": "line", "strokeWidth": 2},
                    "encoding": {
                      "color": {"field": "s", "type": "nominal",
                        "scale": {"domain": ["Scrambled", "MICU1-KO", "MICU2-KO", "MCU-KO"], "range": ["#000000", "#1a7f1a", "#1a1acc", "#ff2a8c"]},
                        "legend": {"orient": "none", "legendX": 150, "legendY": 88.5, "symbolType": "M-2.1,0L2.1,0", "symbolSize": 121, "symbolStrokeWidth": 2, "labelOffset": 9, "rowPadding": 4, "labelFontSize": 10.5}}
                    }
                  },
                  {
                    "data": {"name": "Dann"},
                    "transform": [{"filter": "datum.kind == 't'"}],
                    "mark": {"type": "text", "font": "Liberation Sans", "fontSize": 7.5, "fontWeight": "bold"},
                    "encoding": {"text": {"field": "label"}}
                  },
                  {
                    "data": {"name": "Dann"},
                    "transform": [{"filter": "datum.kind == 'a'"}],
                    "mark": {"type": "text", "font": "DejaVu Sans", "fontSize": 9},
                    "encoding": {"text": {"field": "label"}}
                  }
                ]
              },
              {
                "width": 324, "height": 154,
                "title": {"text": "E", "fontSize": 22, "dx": -75, "dy": 8},
                "data": {"name": "E"},
                "encoding": {
                  "x": {"field": "conc", "type": "nominal", "sort": null, "scale": {"paddingInner": 0.13, "paddingOuter": 0.145}, "axis": {"title": null, "labelAngle": 0, "labelFontSize": 11.5, "labelPadding": 3}},
                  "xOffset": {"field": "cond", "type": "nominal", "sort": null, "scale": {"domain": ["Scrambled", "MICU1-KO", "MICU2-KO", "MCU-KO"], "paddingInner": 0.06}}
                },
                "layer": [
                  {
                    "mark": {"type": "bar"},
                    "encoding": {
                      "y": {"field": "value", "type": "quantitative", "scale": {"domain": [0, 0.204], "nice": false}, "axis": {"values": [0, 0.05, 0.1, 0.15, 0.2], "format": ".2f", "title": "Ca²⁺ uptake rate (µM/sec)", "labelFontSize": 11.5}},
                      "color": {"field": "cond", "type": "nominal", "scale": {"domain": ["Scrambled", "MICU1-KO", "MICU2-KO", "MCU-KO"], "range": ["#000000", "#138213", "#1717c4", "#ff1f8f"]},
                        "legend": {"orient": "none", "legendX": 2.5, "legendY": 2, "symbolType": "M-0.5,-1L0.5,-1L0.5,1L-0.5,1Z", "symbolSize": 100, "symbolStrokeWidth": 0, "labelOffset": 2, "rowPadding": 3.5, "labelFontSize": 10}}
                    }
                  },
                  {
                    "transform": [{"filter": "datum.upper > datum.value"}],
                    "mark": {"type": "rule", "strokeWidth": 2},
                    "encoding": {
                      "y": {"field": "value", "type": "quantitative", "scale": {"domain": [0, 0.204], "nice": false}, "axis": {"values": [0, 0.05, 0.1, 0.15, 0.2], "format": ".2f", "title": "Ca²⁺ uptake rate (µM/sec)", "labelFontSize": 11.5}},
                      "y2": {"field": "upper"},
                      "color": {"field": "cond", "type": "nominal", "scale": {"domain": ["Scrambled", "MICU1-KO", "MICU2-KO", "MCU-KO"], "range": ["#000000", "#138213", "#1717c4", "#ff1f8f"]}, "legend": null}
                    }
                  },
                  {
                    "transform": [{"filter": "datum.upper > datum.value"}],
                    "mark": {"type": "tick", "thickness": 2, "size": 11},
                    "encoding": {
                      "y": {"field": "upper", "type": "quantitative", "scale": {"domain": [0, 0.204], "nice": false}, "axis": {"values": [0, 0.05, 0.1, 0.15, 0.2], "format": ".2f", "title": "Ca²⁺ uptake rate (µM/sec)", "labelFontSize": 11.5}},
                      "color": {"field": "cond", "type": "nominal", "scale": {"domain": ["Scrambled", "MICU1-KO", "MICU2-KO", "MCU-KO"], "range": ["#000000", "#138213", "#1717c4", "#ff1f8f"]}, "legend": null}
                    }
                  },
                  {
                    "mark": {"type": "text", "font": "Liberation Sans", "fontSize": 12, "baseline": "alphabetic", "dy": 0},
                    "encoding": {
                      "y": {"field": "upper", "type": "quantitative", "scale": {"domain": [0, 0.204], "nice": false}, "axis": {"values": [0, 0.05, 0.1, 0.15, 0.2], "format": ".2f", "title": "Ca²⁺ uptake rate (µM/sec)", "labelFontSize": 11.5}},
                      "text": {"field": "star"}
                    }
                  }
                ]
              }
            ]
          },
          {
            "bounds": "flush",
            "spacing": 117,
            "resolve": {"scale": {"color": "independent", "xOffset": "independent"}, "legend": {"color": "independent"}},
            "hconcat": [
              {
                "width": 208, "height": 153,
                "title": {"text": "F", "fontSize": 22, "dx": -73, "dy": 23},
                "encoding": {
                  "x": {"field": "t", "type": "quantitative", "scale": {"domain": [0, 700], "nice": false}, "axis": {"values": [0, 100, 200, 300, 400, 500, 600, 700], "format": "d", "title": "Time (s)", "titlePadding": 3}},
                  "y": {"field": "v", "type": "quantitative", "scale": {"domain": [0.5, 2.0], "nice": false, "zero": false}, "axis": {"values": [0.5, 1.0, 1.5, 2.0], "format": ".1f", "title": "[Ca²⁺]ₑₓₜ µM", "titleFontSize": 14}}
                },
                "layer": [
                  {
                    "data": {"name": "F"},
                    "transform": [{"fold": ["Scrambled", "MICU2-KO", "MICU1-KO", "MCU-KO"], "as": ["s", "v"]}],
                    "mark": {"type": "line", "strokeWidth": 1.6},
                    "encoding": {
                      "color": {"field": "s", "type": "nominal",
                        "scale": {"domain": ["Scrambled", "MICU1-KO", "MICU2-KO", "MCU-KO"], "range": ["#000000", "#1a7f1a", "#1a1acc", "#ff2a8c"]},
                        "legend": {"orient": "none", "legendX": 150, "legendY": 87.5, "symbolType": "M-2.1,0L2.1,0", "symbolSize": 121, "symbolStrokeWidth": 2, "labelOffset": 9, "rowPadding": 4, "labelFontSize": 10.5}}
                    }
                  },
                  {
                    "data": {"name": "Fann"},
                    "transform": [{"filter": "datum.kind == 't'"}],
                    "mark": {"type": "text", "font": "Liberation Sans", "fontSize": 7.5, "fontWeight": "bold"},
                    "encoding": {"text": {"field": "label"}}
                  },
                  {
                    "data": {"name": "Fann"},
                    "transform": [{"filter": "datum.kind == 'a'"}],
                    "mark": {"type": "text", "font": "DejaVu Sans", "fontSize": 9},
                    "encoding": {"text": {"field": "label"}}
                  }
                ]
              },
              {
                "width": 177, "height": 153,
                "title": {"text": "G", "fontSize": 22, "dx": -78, "dy": 16},
                "data": {"name": "G"},
                "encoding": {
                  "x": {"field": "conc", "type": "nominal", "sort": null, "scale": {"paddingInner": 0.14, "paddingOuter": 0.147}, "axis": {"title": null, "labelAngle": 0, "labelFontSize": 11.5, "labelPadding": 3}},
                  "xOffset": {"field": "cond", "type": "nominal", "sort": null, "scale": {"domain": ["Scrambled", "MICU1-KO", "MICU2-KO", "MCU-KO"], "paddingInner": 0.06}}
                },
                "layer": [
                  {
                    "mark": {"type": "bar"},
                    "encoding": {
                      "y": {"field": "value", "type": "quantitative", "scale": {"domain": [0, 0.00608], "nice": false}, "axis": {"values": [0, 0.002, 0.004, 0.006], "format": ".3f", "title": "Ca²⁺ uptake rate (µM/sec)", "labelFontSize": 11.5}},
                      "color": {"field": "cond", "type": "nominal", "scale": {"domain": ["Scrambled", "MICU1-KO", "MICU2-KO", "MCU-KO"], "range": ["#000000", "#138213", "#1717c4", "#ff1f8f"]},
                        "legend": {"orient": "none", "legendX": 2.5, "legendY": 3, "symbolType": "M-0.5,-1L0.5,-1L0.5,1L-0.5,1Z", "symbolSize": 100, "symbolStrokeWidth": 0, "labelOffset": 2, "rowPadding": 3.5, "labelFontSize": 10}}
                    }
                  },
                  {
                    "transform": [{"filter": "datum.upper > datum.value"}],
                    "mark": {"type": "rule", "strokeWidth": 2},
                    "encoding": {
                      "y": {"field": "value", "type": "quantitative", "scale": {"domain": [0, 0.00608], "nice": false}, "axis": {"values": [0, 0.002, 0.004, 0.006], "format": ".3f", "title": "Ca²⁺ uptake rate (µM/sec)", "labelFontSize": 11.5}},
                      "y2": {"field": "upper"},
                      "color": {"field": "cond", "type": "nominal", "scale": {"domain": ["Scrambled", "MICU1-KO", "MICU2-KO", "MCU-KO"], "range": ["#000000", "#138213", "#1717c4", "#ff1f8f"]}, "legend": null}
                    }
                  },
                  {
                    "transform": [{"filter": "datum.upper > datum.value"}],
                    "mark": {"type": "tick", "thickness": 2, "size": 11},
                    "encoding": {
                      "y": {"field": "upper", "type": "quantitative", "scale": {"domain": [0, 0.00608], "nice": false}, "axis": {"values": [0, 0.002, 0.004, 0.006], "format": ".3f", "title": "Ca²⁺ uptake rate (µM/sec)", "labelFontSize": 11.5}},
                      "color": {"field": "cond", "type": "nominal", "scale": {"domain": ["Scrambled", "MICU1-KO", "MICU2-KO", "MCU-KO"], "range": ["#000000", "#138213", "#1717c4", "#ff1f8f"]}, "legend": null}
                    }
                  },
                  {
                    "transform": [{"filter": "datum.star == '***'"}],
                    "mark": {"type": "text", "font": "Liberation Sans", "fontSize": 12, "baseline": "alphabetic", "dy": 0},
                    "encoding": {
                      "y": {"field": "upper", "type": "quantitative", "scale": {"domain": [0, 0.00608], "nice": false}, "axis": {"values": [0, 0.002, 0.004, 0.006], "format": ".3f", "title": "Ca²⁺ uptake rate (µM/sec)", "labelFontSize": 11.5}},
                      "text": {"field": "star"}
                    }
                  },
                  {
                    "transform": [{"filter": "datum.star == 'ns'"}],
                    "mark": {"type": "text", "font": "Liberation Sans", "fontSize": 10, "baseline": "alphabetic", "dy": -5},
                    "encoding": {
                      "y": {"field": "upper", "type": "quantitative", "scale": {"domain": [0, 0.00608], "nice": false}, "axis": {"values": [0, 0.002, 0.004, 0.006], "format": ".3f", "title": "Ca²⁺ uptake rate (µM/sec)", "labelFontSize": 11.5}},
                      "text": {"field": "star"}
                    }
                  }
                ]
              }
            ]
          }
        ]
      }
    ]
  }
]
}
